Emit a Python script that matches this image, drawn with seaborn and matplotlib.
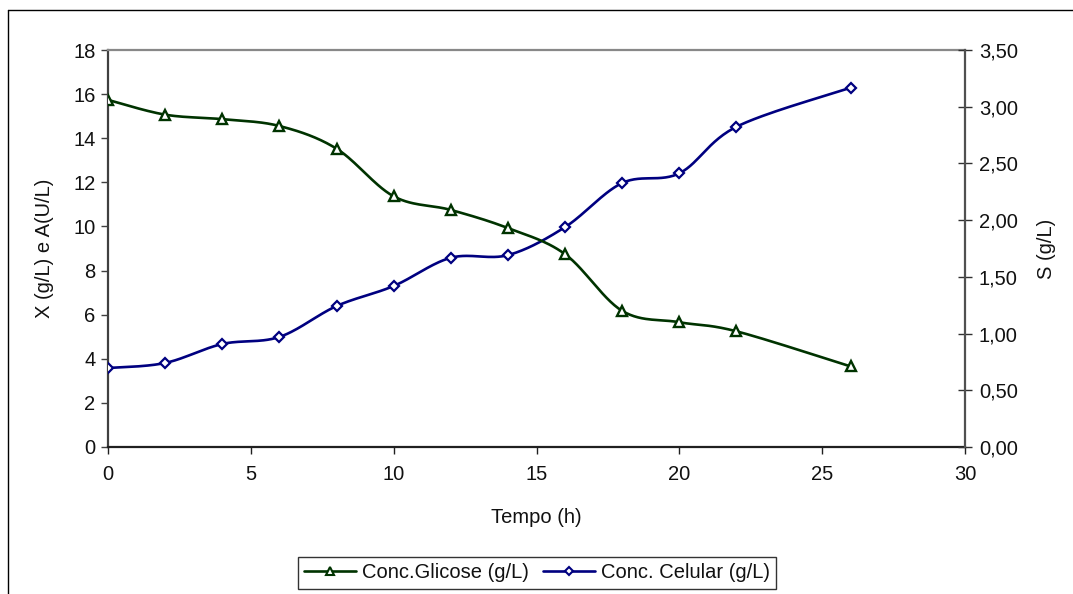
import numpy as np
import matplotlib
matplotlib.use("Agg")
import matplotlib.pyplot as plt
import seaborn as sns
from matplotlib.lines import Line2D
from matplotlib.ticker import FuncFormatter

# ---- data ----
tempo = [0, 2, 4, 6, 8, 10, 12, 14, 16, 18, 20, 22, 26]
glicose = [3.06, 2.93, 2.89, 2.83, 2.63, 2.21, 2.09, 1.93, 1.70, 1.20, 1.10, 1.02, 0.71]   # S (g/L), right axis
celular = [3.58, 3.81, 4.67, 4.99, 6.39, 7.30, 8.58, 8.70, 9.97, 11.97, 12.41, 14.52, 16.29]  # X (g/L), left axis
x_ticks = [0, 5, 10, 15, 20, 25, 30]
left_ticks = [0, 2, 4, 6, 8, 10, 12, 14, 16, 18]
right_ticks = [0.0, 0.5, 1.0, 1.5, 2.0, 2.5, 3.0, 3.5]
lab_glic = "Conc.Glicose (g/L)"
lab_cel = "Conc. Celular (g/L)"

sns.set_theme(style="white")
plt.rcParams['font.family'] = ['Liberation Sans', 'DejaVu Sans']
FS = 14.5

def smooth(xv, yv, n=30):
    """Excel-like smoothed line (Catmull-Rom Bezier) through the data points."""
    P = np.column_stack([xv, yv]).astype(float)
    out = []
    for i in range(len(P) - 1):
        p0 = P[i - 1] if i > 0 else P[i]
        p1, p2 = P[i], P[i + 1]
        p3 = P[i + 2] if i + 2 < len(P) else P[i + 1]
        c1 = p1 + (p2 - p0) / 6.0
        c2 = p2 - (p3 - p1) / 6.0
        t = np.linspace(0, 1, n)[:, None]
        seg = ((1 - t) ** 3) * p1 + 3 * ((1 - t) ** 2) * t * c1 + 3 * (1 - t) * t ** 2 * c2 + t ** 3 * p2
        out.append(seg if i == 0 else seg[1:])
    s = np.vstack(out)
    return s[:, 0], s[:, 1]

W, H = 1073, 594
fig = plt.figure(figsize=(W / 100, H / 100), dpi=100)
ax = fig.add_axes([108 / W, 1 - 447 / H, (965 - 108) / W, (447 - 50) / H])
ax2 = ax.twinx()

green = "#003300"
navy = "#000080"

# cell concentration (left axis)
sx, sy = smooth(tempo, celular)
sns.lineplot(x=sx, y=sy, ax=ax, color=navy, lw=1.9, sort=False, estimator=None)
ax.plot(tempo, celular, ls="none", marker="D", ms=5.5, mfc="white", mec=navy, mew=1.6, zorder=5)

# glucose (right axis)
gx, gy = smooth(tempo, glicose)
sns.lineplot(x=gx, y=gy, ax=ax2, color=green, lw=1.9, sort=False, estimator=None)
ax2.plot(tempo, glicose, ls="none", marker="^", ms=7.5, mfc="white", mec=green, mew=1.7, zorder=5)

ax.set_xlim(0, 30)
ax.set_ylim(0, 18)
ax2.set_ylim(0, 3.5)
ax.set_xticks(x_ticks)
ax.set_yticks(left_ticks)
ax2.set_yticks(right_ticks)
ax2.yaxis.set_major_formatter(FuncFormatter(lambda v, p: f"{v:.2f}".replace(".", ",")))

for a in (ax, ax2):
    a.grid(False)
    a.set_facecolor("none")
ax.spines["top"].set_color("#888888")
ax.spines["left"].set_color("#404040")
ax.spines["bottom"].set_color("#202020")
ax.spines["right"].set_visible(False)
ax2.spines["top"].set_visible(False)
ax2.spines["left"].set_visible(False)
ax2.spines["bottom"].set_visible(False)
ax2.spines["right"].set_color("#505050")
for s in ax.spines.values():
    s.set_linewidth(1.6)
ax2.spines["right"].set_linewidth(1.6)

ax.tick_params(axis="x", direction="out", length=5, width=1, color="#202020", labelsize=FS, pad=8, bottom=True,
               labelcolor="#111111")
ax.tick_params(axis="y", direction="out", length=5, width=1, color="#404040", labelsize=FS, pad=4, left=True,
               labelcolor="#111111")
ax2.tick_params(axis="y", direction="inout", length=10, width=1, color="#303030", labelsize=FS, pad=5, right=True,
                labelcolor="#111111")

ax.set_xlabel("Tempo (h)", fontsize=FS, labelpad=17, color="#111111")
ax.set_ylabel("X (g/L) e A(U/L)", fontsize=FS, labelpad=14, color="#111111")
ax2.set_ylabel("S (g/L)", fontsize=FS, labelpad=14, color="#111111")

handles = [
    Line2D([], [], color=green, lw=1.9, marker="^", ms=6, mfc="white", mec=green, mew=1.5),
    Line2D([], [], color=navy, lw=1.9, marker="D", ms=4.5, mfc="white", mec=navy, mew=1.5),
]
leg = fig.legend(handles, [lab_glic, lab_cel], loc="center", bbox_to_anchor=(537 / W, 1 - 573 / H),
                 ncol=2, frameon=True, fancybox=False, fontsize=FS, handlelength=2.6,
                 columnspacing=0.7, handletextpad=0.3, borderpad=0.3, borderaxespad=0)
leg.get_frame().set_edgecolor("black")
leg.get_frame().set_linewidth(1.0)
for t in leg.get_texts():
    t.set_color("#111111")

# outer chart frame (only top and left edges visible)
fig.add_artist(Line2D([8 / W, 8 / W], [1 - 10 / H, 0], transform=fig.transFigure, color="black", lw=1))
fig.add_artist(Line2D([8 / W, 1], [1 - 10 / H, 1 - 10 / H], transform=fig.transFigure, color="black", lw=1))

fig.savefig("out.png", dpi=100)
